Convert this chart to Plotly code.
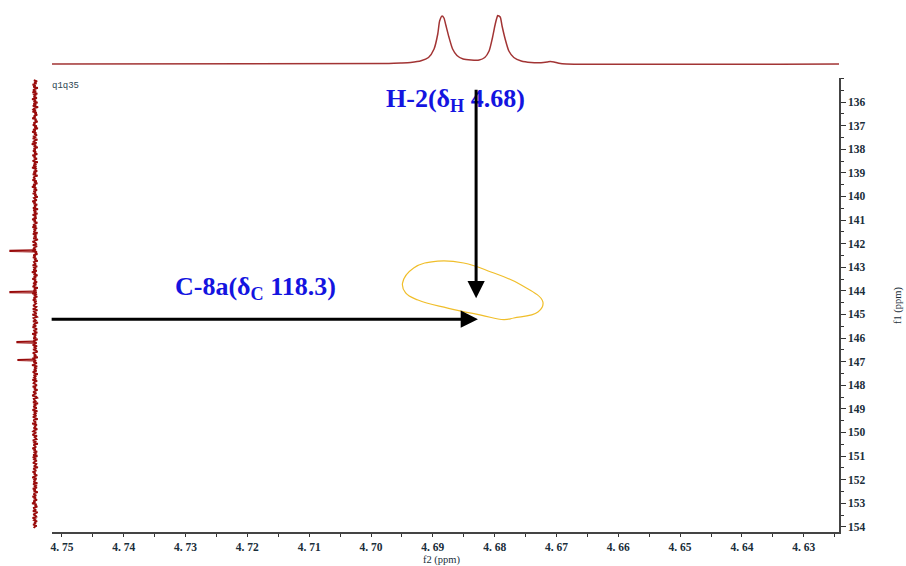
import numpy as np
import plotly.graph_objects as go

# ---- 1H projection (top): chemical shift (ppm) and intensity ----
h_ppm = [4.7516, 4.6971, 4.6952, 4.6936, 4.6919, 4.6907, 4.6898, 4.6892, 4.6889,
         4.6885, 4.6882, 4.6879, 4.6874, 4.6868, 4.6861, 4.6851, 4.6838, 4.6825,
         4.6816, 4.6809, 4.6804, 4.6799, 4.6796, 4.6795, 4.6791, 4.6788, 4.6783,
         4.6777, 4.6769, 4.6757, 4.6741, 4.6725, 4.6715, 4.6710, 4.6704, 4.6696,
         4.6684, 4.6242]
h_int = [0, 0.5, 1, 1.6, 3.2, 6.5, 15, 30, 43,
         48, 46, 39, 27, 15, 8.5, 5, 4, 4,
         6.5, 13, 25, 40, 47, 48.5, 47, 38, 25,
         13, 6.5, 3, 1.5, 1.3, 2, 2.5, 2, 0.7,
         0, 0]

# ---- 13C projection (left): baseline noise and peaks ----
c_noise = [
    1.2, -2.1, 0.8, -1.5, 2.4, -0.6, 1.7, -2.8, 0.3, 1.9,
    -1.1, 2.6, -2.3, 0.9, -0.4, 1.4, -1.9, 2.9, -0.8, 0.5,
    -2.5, 1.6, -1.2, 2.2, -3.1, 0.7, 1.8, -0.9, 2.5, -1.7,
    0.4, -2.2, 1.3, -0.5, 2.7, -1.4, 0.2, -2.6, 1.5, -0.3,
    2.1, -1.8, 0.6, -2.9, 1.9, -0.7, 2.8, -1.3, 0.9, -2.0,
    1.1, -0.2, 2.3, -2.4, 0.5, 1.6, -1.6, 3.2, -0.9, 0.3,
    -2.7, 1.4, -0.6, 2.0, -1.1, 0.8, -2.3, 2.6, -0.4, 1.2,
    -1.9, 0.6, 2.4, -2.8, 1.0, -0.5, 1.7, -1.5, 2.9, -0.8,
    0.2, -2.1, 1.5, -1.0, 2.2, -2.6, 0.7, 1.3, -0.3, 2.5,
    -1.7, 0.9, -2.4, 1.8, -0.6, 3.0, -1.2, 0.4, -2.0, 1.6,
    -0.8, 2.3, -1.4, 0.6, -2.7, 1.1, 0.2, -1.8, 2.7, -0.5,
    1.4, -2.2, 0.8, -1.0, 2.0, -3.0, 1.7, -0.4, 0.9, -2.5,
    2.4, -1.1, 0.3, -1.6, 2.8, -0.7, 1.2, -2.3, 0.5, 1.9,
    -1.3, 2.6, -2.0, 0.7, -0.2, 1.5, -2.6, 2.1, -0.9, 0.4,
    -1.5, 1.8, -2.9, 1.0, 2.5, -0.6, -1.2, 2.2, -2.1, 0.6,
    1.3, -0.8, 2.9, -1.9, 0.1, -2.4, 1.6, -0.5, 2.0, -1.4,
    0.8, -2.7, 1.1, 0.4, -1.0, 2.4, -2.2, 0.9, -0.3, 1.7,
    -1.8, 3.1, -0.7, 0.5, -2.5, 1.3, -1.1, 2.6, -0.4, 0.2,
    -2.0, 1.9, -1.3, 0.7, 2.3, -2.8, 1.0, -0.6, 1.5, -1.7,
    2.7, -0.9, 0.3, -2.3, 1.4, -0.2, 2.1, -1.6, 0.8, -1.0,
    0.6, 1.8, -1.4, -0.3, 2.2, -2.5, 1.1, 0.2, -1.7, 2.6,
    -0.9, -2.1, 1.5, 0.7, -0.8, 2.0, -2.9, 0.4, 1.3, -1.2,
    2.4, -0.5, -1.9, 1.0, 0.3, -2.3, 2.8, -1.1, 0.6, -0.4,
    1.7, -2.6, 0.9, 1.4, -1.5, 0.1, 2.3, -2.0, 0.5, -0.7,
    1.9, -1.3, -2.4, 2.1, 0.8, -0.6, 1.2, -2.8, 2.5, -0.2,
    -1.0, 1.6, -1.8, 0.4, 2.9, -2.2, 0.7, -0.9, 1.1, -1.6,
    2.2, 0.3, -2.7, 1.4, -0.5, 0.9, -1.2, 2.6, -2.1, 0.6,
    1.5, -0.4, -1.9, 2.3, -0.8, 1.0, -2.5, 0.2, 1.8, -1.4,
    0.5, 2.7, -1.1, -2.2, 1.3, 0.8, -0.6, 2.0, -3.0, 1.2,
    -0.3, 1.7, -1.7, 0.4, 2.4, -2.4, 1.1, -0.7, 0.9, -1.5,
    2.1, -0.2, -2.6, 1.6, 0.6, -1.0, 2.8, -1.9, 0.3, -0.5,
    1.4, -2.3, 0.7, 1.9, -1.3, 0.1, 2.5, -2.0, 1.0, -0.8,
    -1.6, 2.2, -0.4, 0.8, -2.8, 1.5, 0.2, -1.1, 2.6, -0.6,
    1.3, -2.1, 0.5, -0.9, 1.8, -2.5, 2.3, -0.3, 0.9, -1.8,
    0.4, 2.0, -1.4, -0.7, 1.2, -2.9, 1.7, 0.6, -1.2, 2.4,
    -0.5, 1.1, -2.2, 0.3, 2.7, -1.6, 0.8, -0.2, 1.5, -2.4,
    1.9, -1.0, 0.2, -1.9, 2.2, -0.6, 1.4, -2.7, 0.7, 1.0,
    -1.3, 2.5, -0.8, 0.5, -2.0, 1.6, -0.4, 2.9, -1.5, 0.3,
    -2.3, 1.2, 0.9, -1.1, 2.1, -2.6, 0.6, 1.7, -0.7, -1.4,
    2.4, -0.3, 1.0, -2.1, 0.8, -0.9, 1.9, -1.7, 0.4, 1.3,
]
c_start, c_end = 135.07, 154.05
c_peak_ppm = [142.31, 144.05, 146.17, 146.93]
c_peak_int = [25, 25, 18, 17]

# ---- HMBC cross peak outline (f2 ppm, f1 ppm) ----
xp_f2 = [4.6949, 4.6931, 4.6892, 4.6850, 4.6806, 4.6757, 4.6722, 4.6730,
         4.6769, 4.6785, 4.6822, 4.6876, 4.6924, 4.6944, 4.6949]
xp_f1 = [143.67, 143.03, 142.74, 142.82, 143.20, 143.75, 144.47, 144.90,
         145.15, 145.22, 145.03, 144.73, 144.39, 144.09, 143.67]

# ---- axis ticks ----
f2_ticks = [4.75, 4.74, 4.73, 4.72, 4.71, 4.70, 4.69, 4.68, 4.67, 4.66, 4.65, 4.64, 4.63]
f2_labels = ["4. 75", "4. 74", "4. 73", "4. 72", "4. 71", "4. 70", "4. 69",
             "4. 68", "4. 67", "4. 66", "4. 65", "4. 64", "4. 63"]
f1_ticks = list(range(136, 155))
f1_labels = [str(v) for v in f1_ticks]

# ---- correlation markers ----
h2_label = "<b>H-2(δ<sub>H</sub> 4.68)</b>"
c8a_label = "<b>C-8a(δ<sub>C</sub> 118.3)</b>"
h2_arrow = dict(x=4.6830, y=144.31, ax=4.6830, ay=135.41)
c8a_arrow = dict(x=4.6827, y=145.20, ax=4.7519, ay=145.20)

# ---- page geometry (pixels) ----
W, H = 906, 566
L, R, T, B = 2, 839, 5, 532


def px(x):
    return (x - L) / (R - L)


def py(y):
    return (B - y) / (B - T)


tick_font = dict(family="Liberation Serif", size=11.5, color="#1a2e3a", weight="bold")
red_dark = "#990c0c"

fig = go.Figure()

# top 1D projection
fig.add_trace(go.Scatter(x=h_ppm, y=h_int, mode="lines", xaxis="x", yaxis="y2",
                         line=dict(color="#a23434", width=1.5, shape="spline",
                                   smoothing=0.6),
                         hoverinfo="skip", showlegend=False))

# left 1D projection
c_ppm = np.linspace(c_start, c_end, len(c_noise))
fig.add_trace(go.Scatter(x=c_noise, y=c_ppm, mode="lines", xaxis="x3", yaxis="y",
                         line=dict(color=red_dark, width=1.8),
                         hoverinfo="skip", showlegend=False))
pk_x, pk_y = [], []
for p, h in zip(c_peak_ppm, c_peak_int):
    pk_x += [0, h, h, 0, None]
    pk_y += [p - 0.04, p - 0.02, p + 0.02, p + 0.04, None]
fig.add_trace(go.Scatter(x=pk_x, y=pk_y, mode="lines", xaxis="x3", yaxis="y",
                         line=dict(color=red_dark, width=1.3),
                         hoverinfo="skip", showlegend=False))

# cross peak contour
fig.add_trace(go.Scatter(x=xp_f2, y=xp_f1, mode="lines",
                         line=dict(color="#f0be2a", width=1.2, shape="spline",
                                   smoothing=1.2),
                         hoverinfo="skip", showlegend=False))

label_font = dict(family="Liberation Serif", size=26, color="#1414e0")
title_font = dict(family="Liberation Serif", size=10.5, color="#1a2e3a")
annotations = [
    dict(text=h2_label, x=px(455), y=py(100), xref="paper", yref="paper",
         showarrow=False, xanchor="center", yanchor="middle", font=label_font),
    dict(text=c8a_label, x=px(255), y=py(288), xref="paper", yref="paper",
         showarrow=False, xanchor="center", yanchor="middle", font=label_font),
    dict(text="q1q35", x=px(50), y=py(86), xref="paper", yref="paper",
         showarrow=False, xanchor="left", yanchor="middle",
         font=dict(family="Liberation Mono", size=9, color="#2b4450")),
    dict(text="f2 (ppm)", x=px(442), y=py(560), xref="paper", yref="paper",
         showarrow=False, xanchor="center", yanchor="middle", font=title_font),
    dict(text="f1 (ppm)", x=px(898), y=py(305), xref="paper", yref="paper",
         showarrow=False, xanchor="center", yanchor="middle", textangle=-90,
         font=title_font),
]
for a in (h2_arrow, c8a_arrow):
    annotations.append(dict(text="", xref="x", yref="y", axref="x", ayref="y",
                            showarrow=True, arrowhead=2, arrowsize=1.15,
                            arrowwidth=3, arrowcolor="#000000", standoff=0, **a))

fig.update_layout(
    width=W, height=H,
    margin=dict(l=L, r=W - R, t=T, b=H - B, autoexpand=False),
    paper_bgcolor="white", plot_bgcolor="white",
    showlegend=False,
    xaxis=dict(domain=[px(52), 1], range=[4.7516, 4.6243], anchor="y",
               automargin=False,
               tickvals=f2_ticks, ticktext=f2_labels, tickfont=tick_font,
               ticks="outside", ticklen=3, tickwidth=1.2, tickcolor="#333",
               showline=True, linecolor="#444", linewidth=1.5,
               minor=dict(dtick=0.005, tick0=4.75, ticks="outside", ticklen=3,
                          tickcolor="#333", showgrid=False),
               showgrid=False, zeroline=False),
    yaxis=dict(domain=[0, py(78)], range=[154.22, 134.98], anchor="x",
               automargin=False,
               side="right", tickvals=f1_ticks, ticktext=f1_labels,
               tickfont=tick_font, ticks="outside", ticklen=5, tickwidth=1.2,
               tickcolor="#333", showline=True, linecolor="#444", linewidth=1.5,
               minor=dict(dtick=0.5, tick0=136, ticks="outside", ticklen=3,
                          tickcolor="#333", showgrid=False),
               showgrid=False, zeroline=False),
    yaxis2=dict(domain=[py(70), py(10)], range=[-6, 54], anchor="x",
                visible=False, fixedrange=True),
    xaxis3=dict(domain=[px(4), px(44)], range=[31, -9], anchor="y",
                visible=False, fixedrange=True),
    annotations=annotations,
)

fig.write_html("out.html")
